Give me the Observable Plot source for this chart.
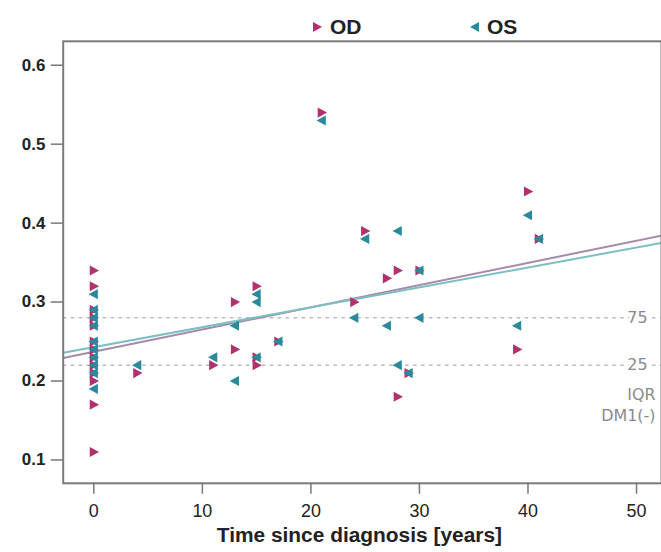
<!DOCTYPE html>
<html><head><meta charset="utf-8">
<script src="https://cdn.jsdelivr.net/npm/d3@7"></script>
<script src="https://cdn.jsdelivr.net/npm/@observablehq/plot@0.6"></script>
<style>
body{margin:0;background:#fff;font-family:"Liberation Sans",Arial,sans-serif}
#wrap{position:relative;width:661px;height:552px;overflow:hidden}
#legend{position:absolute;top:16px;left:0;width:661px;height:24px;font-weight:bold;font-size:21px;color:#222;line-height:22px}
#legend span.item{position:absolute;display:flex;align-items:center;gap:7px}
g[aria-label="y-axis tick label"] text{font-weight:bold}
</style></head><body><div id="wrap"><div id="legend"></div><div id="chart"></div></div>
<script>
// ---- data ----
const seriesNames = ["OD", "OS"];
const seriesColors = ["#b1306e", "#2a8a9c"];
const lineColors = ["#a58aab", "#7dbfc1"];

const odYears  = [0,0,0,0,0,0,0,0,0,0,0,0,0, 4, 11, 13, 13, 15, 15, 15, 17, 21, 24, 25, 27, 28, 28, 29, 30, 39, 40, 41];
const odValues = [0.34,0.32,0.29,0.28,0.27,0.25,0.24,0.23,0.22,0.21,0.20,0.17,0.11, 0.21, 0.22, 0.30, 0.24, 0.32, 0.23, 0.22, 0.25, 0.54, 0.30, 0.39, 0.33, 0.34, 0.18, 0.21, 0.34, 0.24, 0.44, 0.38];

const osYears  = [0,0,0,0,0,0,0,0,0,0, 4, 11, 13, 13, 15, 15, 15, 17, 21, 24, 25, 27, 28, 28, 29, 30, 30, 39, 40, 41];
const osValues = [0.31,0.29,0.28,0.27,0.25,0.24,0.23,0.22,0.21,0.19, 0.22, 0.23, 0.27, 0.20, 0.31, 0.30, 0.23, 0.25, 0.53, 0.28, 0.38, 0.27, 0.39, 0.22, 0.21, 0.34, 0.28, 0.27, 0.41, 0.38];

const xTicks = [0, 10, 20, 30, 40, 50];
const yTicks = [0.1, 0.2, 0.3, 0.4, 0.5, 0.6];
const iqrValues = [0.28, 0.22];
const iqrLabels = ["75", "25"];
const iqrCaption = "IQR\nDM1(-)";
const xLabel = "Time since diagnosis [years]";

// ---- build ----
const xDomain = [-2.82, 52.3];
const yDomain = [0.0704, 0.6303];

const triRight = {draw(ctx, size){const t=Math.sqrt(size);ctx.moveTo(0.62*t,0);ctx.lineTo(-0.48*t,-0.6*t);ctx.lineTo(-0.48*t,0.6*t);ctx.closePath();}};
const triLeft  = {draw(ctx, size){const t=Math.sqrt(size);ctx.moveTo(-0.62*t,0);ctx.lineTo(0.48*t,-0.6*t);ctx.lineTo(0.48*t,0.6*t);ctx.closePath();}};
const symbols = [triRight, triLeft];

const od = odYears.map((x,i)=>({x, y: odValues[i]}));
const os = osYears.map((x,i)=>({x, y: osValues[i]}));
const series = [od, os];

function fit(data){
  const mx=d3.mean(data,d=>d.x), my=d3.mean(data,d=>d.y);
  let sxy=0,sxx=0; for(const d of data){sxy+=(d.x-mx)*(d.y-my); sxx+=(d.x-mx)**2;}
  const b=sxy/sxx, a=my-b*mx;
  return xDomain.map(x=>({x, y:a+b*x}));
}

const grayText = "#8a8a8a";
const plot = Plot.plot({
  width: 664, height: 552,
  marginLeft: 63, marginRight: 0, marginTop: 41, marginBottom: 67,
  style: {fontFamily: '"Liberation Sans", Arial, sans-serif', color: "#222", background: "#fff"},
  x: {domain: xDomain},
  y: {domain: yDomain},
  marks: [
    Plot.ruleY(iqrValues, {stroke: "#bcbcbc", strokeWidth: 1.5, strokeDasharray: "3.5,4.5"}),
    Plot.text(iqrValues, {y: d=>d, text: (d,i)=>iqrLabels[i], frameAnchor: "right", textAnchor: "end", dx: -14, fill: grayText, stroke: "white", strokeWidth: 5, paintOrder: "stroke", fontSize: 16, fontFamily: "DejaVu Sans"}),
    Plot.text([iqrValues[1]], {y: d=>d, text: ()=>iqrCaption, frameAnchor: "right", textAnchor: "end", dx: -6, dy: 39, lineAnchor: "middle", lineHeight: 1.3, fill: grayText, fontSize: 16, fontFamily: "DejaVu Sans"}),
    ...series.map((s,i)=>Plot.line(fit(s), {x:"x", y:"y", stroke: lineColors[i], strokeWidth: 2, clip: true})),
    ...series.map((s,i)=>Plot.dot(s, {x:"x", y:"y", symbol: symbols[i], r: 4.8, fill: seriesColors[i], stroke: "none"})),
    Plot.frame({stroke: "#7a7a7a", strokeWidth: 2}),
    Plot.axisY({ticks: yTicks, tickSize: 12, tickPadding: 6, fontSize: 17, tickFormat: d3.format(".1f"), stroke: "#777", strokeWidth: 1.5, fill: "#222", label: null}),
    Plot.axisX({ticks: xTicks, tickSize: 11, tickPadding: 10, fontSize: 18, tickFormat: d3.format("d"), stroke: "#777", strokeWidth: 1.5, fill: "#222", label: null}),
    Plot.text([xLabel], {text: d=>d, frameAnchor: "bottom", dy: 59, dx: -3, fontSize: 21, fontWeight: "bold", fill: "#222"})
  ]
});
document.getElementById("chart").appendChild(plot);

// legend
const legend = document.getElementById("legend");
const legendLeft = [312, 469];
seriesNames.forEach((name,i)=>{
  const span = document.createElement("span");
  span.className = "item";
  span.style.left = legendLeft[i] + "px";
  const pts = i===0 ? "1,1 10,6 1,11" : "10,1 1,6 10,11";
  span.innerHTML = `<svg width="11" height="12"><polygon points="${pts}" fill="${seriesColors[i]}"/></svg><span>${name}</span>`;
  legend.appendChild(span);
});
</script></body></html>
